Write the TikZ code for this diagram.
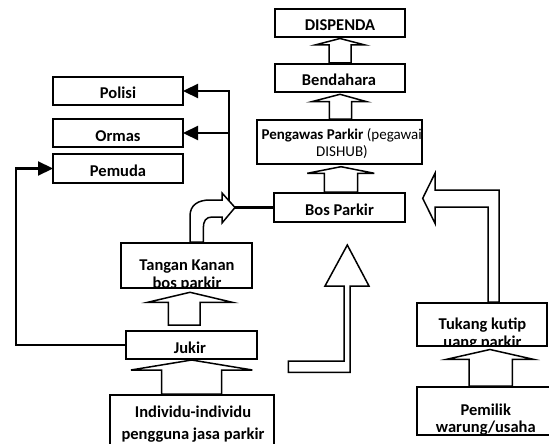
\documentclass[tikz,border=0pt]{standalone}
\usepackage{fontspec}
\setmainfont{Carlito}
\usetikzlibrary{arrows.meta,fit}
\begin{document}
\begin{tikzpicture}[x=1pt,y=-1pt,
  boxst/.style={draw,line width=2pt,fill=white,inner sep=0pt,outer sep=0pt},
  lbl/.style={anchor=base,inner sep=0pt,font=\fontsize{16.5}{19}\selectfont\bfseries},
  subtxt/.style={anchor=base,inner sep=0pt,font=\fontsize{15}{18}\selectfont},
  conn/.style={line width=2.2pt},
  arrowend/.style={-{Triangle[length=15pt,width=14pt]}},
  blk/.style={draw,line width=1.5pt,fill=white,line join=miter}]
\useasboundingbox (0,0) rectangle (549,444);
\clip (0,0) rectangle (549,444);
\fill[white] (0,0) rectangle (549,444);

% boxes
\node[boxst,fit={(275,9)(405,37)}] (dispenda) {};
\node[boxst,fit={(275,64)(405,92)}] (bendahara) {};
\node[boxst,fit={(257,120)(422,164)}] (pengawas) {};
\node[boxst,fit={(274,193)(405,222)}] (bos) {};
\node[boxst,fit={(53,77)(183,105)}] (polisi) {};
\node[boxst,fit={(53,119)(183,147)}] (ormas) {};
\node[boxst,fit={(53,154)(183,183)}] (pemuda) {};
\node[boxst,fit={(121,243)(252,288)}] (tangan) {};
\node[boxst,fit={(126,331)(257,359)}] (jukir) {};
\node[boxst,fit={(110,395)(274,460)}] (individu) {};
\node[boxst,fit={(417,303)(547,346)}] (tukang) {};
\node[boxst,fit={(417,387)(556,435)}] (pemilik) {};

% texts
\node[lbl] (t-dispenda) at (340,30.7) {DISPENDA};
\node[lbl] (t-bendahara) at (339,85.5) {Bendahara};
\node[subtxt] (t-pengawas1) at (341.7,139.5) {\textbf{Pengawas Parkir} (pegawai};
\node[subtxt] (t-pengawas2) at (342,156) {DISHUB)};
\node[lbl] (t-bos) at (339.5,215) {Bos Parkir};
\node[lbl] (t-polisi) at (118,99) {Polisi};
\node[lbl] (t-ormas) at (118,141.5) {Ormas};
\node[lbl] (t-pemuda) at (118,176.5) {Pemuda};
\node[lbl] (t-tangan1) at (187,270) {Tangan Kanan};
\begin{scope}
  \clip (121,243) rectangle (252,286.5);
  \node[lbl] (t-tangan2) at (187,288.5) {bos parkir};
\end{scope}
\node[lbl] (t-jukir) at (190,353.3) {Jukir};
\node[lbl] (t-individu1) at (193,417.7) {Individu-individu};
\begin{scope}
  \clip (110,395) rectangle (274,441.5);
  \node[lbl] (t-individu2) at (193,439.5) {pengguna jasa parkir};
\end{scope}
\node[lbl] (t-tukang1) at (482.5,329) {Tukang kutip};
\begin{scope}
  \clip (417,303) rectangle (547,344);
  \node[lbl] (t-tukang2) at (482.5,347.5) {uang parkir};
\end{scope}
\node[lbl] (t-pemilik1) at (485.8,415.7) {Pemilik};
\node[lbl] (t-pemilik2) at (485.8,432) {warung/usaha};

% connectors
\coordinate (jn) at (229,207.5);
\coordinate (lp) at (16,345);
\draw[conn,arrowend] (bos.west) -- (jn) |- (polisi.east);
\draw[conn,arrowend] (jn |- ormas.east) -- (ormas.east);
\draw[conn,arrowend] (jukir.west) -- (lp) |- (pemuda.west);

% block arrows
\path[blk] (329,63) -- (329,45) -- (315,45) -- (340,38.5) -- (365,45) -- (351,45) -- (351,63) -- cycle;
\path[blk] (329.3,119) -- (329.3,101.7) -- (311.7,101.7) -- (340,94.3) -- (366.7,101.7) -- (351.7,101.7) -- (351.7,119) -- cycle;
\path[blk] (324.3,192) -- (324.3,173.3) -- (307.3,173.3) -- (341,166.7) -- (374.3,173.3) -- (357.7,173.3) -- (357.7,192) -- cycle;
\path[blk] (168.3,325) -- (168.3,302.3) -- (147.7,302.3) -- (190,292.3) -- (232.3,302.3) -- (200,302.3) -- (200,325) -- cycle;
\path[blk] (161.7,394) -- (161.7,370) -- (131,370) -- (191.7,360) -- (252.3,370) -- (221.7,370) -- (221.7,394) -- cycle;
\path[blk] (469,386) -- (469,359.3) -- (446.7,359.3) -- (490,349.5) -- (533.3,359.3) -- (512.3,359.3) -- (512.3,386) -- cycle;
% bent arrow from Tukang kutip to Bos Parkir
\path[blk] (488,302) -- (488,207) -- (435,207) -- (435,223.3) -- (422.7,198.3) -- (435,173.3) -- (435,190) -- (499,190) -- (499,302) -- cycle;
% free L-shaped arrow
\path[blk] (344,286) -- (325,286) -- (347.3,245) -- (369,286) -- (350,286) -- (350,372.3) -- (288.3,372.3) -- (288.3,361) -- (344,361) -- cycle;
% curved arrow from Tangan Kanan
\path[blk] (190,242) -- (190,216) .. controls (190,205) and (198,200) .. (210,200) -- (222,200) -- (222,193) -- (235,207.5) -- (222,223) -- (222,217) -- (212,217) .. controls (206,217) and (203.3,221) .. (203.3,228) -- (203.3,242) -- cycle;
\end{tikzpicture}
\end{document}
